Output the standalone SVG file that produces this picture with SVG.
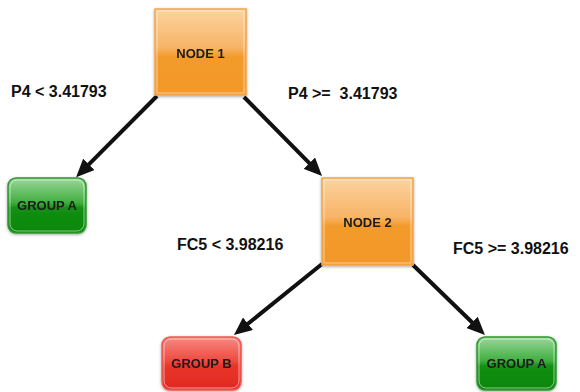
<svg xmlns="http://www.w3.org/2000/svg" width="580" height="392" viewBox="0 0 580 392">
<style>
.lbl{font-family:"Liberation Sans",Arial,sans-serif;font-weight:bold;font-size:16px;fill:#111}
.ntx{font-family:"Liberation Sans",Arial,sans-serif;font-weight:bold;font-size:13px;fill:#1a1a1a;text-anchor:middle}
.edge{stroke:#111;stroke-width:4;fill:none}
.inner{fill:none;stroke:#ffffff;stroke-opacity:0.55;stroke-width:1}
</style>
<defs>
<linearGradient id="gOr" x1="0" y1="0" x2="0" y2="1">
<stop offset="0" stop-color="#fcd3a0"/>
<stop offset="0.45" stop-color="#f7b466"/>
<stop offset="0.55" stop-color="#f39b2c"/>
<stop offset="1" stop-color="#f2982a"/>
</linearGradient>
<linearGradient id="gGr" x1="0" y1="0" x2="0" y2="1">
<stop offset="0" stop-color="#9bd79b"/>
<stop offset="0.45" stop-color="#3fae3f"/>
<stop offset="0.55" stop-color="#138f13"/>
<stop offset="1" stop-color="#0a870a"/>
</linearGradient>
<linearGradient id="gRd" x1="0" y1="0" x2="0" y2="1">
<stop offset="0" stop-color="#f68a83"/>
<stop offset="0.45" stop-color="#ef4a40"/>
<stop offset="0.55" stop-color="#e8342a"/>
<stop offset="1" stop-color="#e22a20"/>
</linearGradient>
<filter id="sh" x="-20%" y="-20%" width="140%" height="140%">
<feGaussianBlur in="SourceAlpha" stdDeviation="1.5"/>
<feOffset dx="0" dy="1" result="b"/>
<feComponentTransfer><feFuncA type="linear" slope="0.35"/></feComponentTransfer>
<feMerge><feMergeNode/><feMergeNode in="SourceGraphic"/></feMerge>
</filter>
<marker id="ah" viewBox="0 0 18 16" markerWidth="18" markerHeight="16" refX="2" refY="8" orient="auto" markerUnits="userSpaceOnUse">
<path d="M0,0 L18,8 L0,16 z" fill="#111"/>
</marker>
</defs>
<g id="connectors">
<line class="edge" x1="157" y1="96" x2="87.4" y2="165.8" marker-end="url(#ah)"/>
<line class="edge" x1="244" y1="97" x2="310.8" y2="164.6" marker-end="url(#ah)"/>
<line class="edge" x1="322" y1="264" x2="246.4" y2="325" marker-end="url(#ah)"/>
<line class="edge" x1="413" y1="265" x2="473.5" y2="323.8" marker-end="url(#ah)"/>
</g>
<g id="node1" filter="url(#sh)">
<rect x="155" y="9" width="91" height="86" fill="url(#gOr)" stroke="#f3a649" stroke-width="1.5"/>
<rect class="inner" x="157" y="11" width="87" height="82"/>
<text class="ntx" x="200.5" y="58">NODE 1</text>
</g>
<g id="node2" filter="url(#sh)">
<rect x="322" y="178" width="91" height="87" fill="url(#gOr)" stroke="#f3a649" stroke-width="1.5"/>
<rect class="inner" x="324" y="180" width="87" height="83"/>
<text class="ntx" x="367.5" y="227">NODE 2</text>
</g>
<g id="groupA1" filter="url(#sh)">
<rect x="8" y="178" width="78" height="55" rx="8" fill="url(#gGr)" stroke="#2f9a2f" stroke-width="1.5"/>
<rect class="inner" x="10" y="180" width="74" height="51" rx="7"/>
<text class="ntx" x="47" y="210">GROUP A</text>
</g>
<g id="groupB" filter="url(#sh)">
<rect x="162" y="337" width="79" height="53" rx="8" fill="url(#gRd)" stroke="#f05a52" stroke-width="1.5"/>
<rect class="inner" x="164" y="339" width="75" height="49" rx="7"/>
<text class="ntx" x="201.5" y="368">GROUP B</text>
</g>
<g id="groupA2" filter="url(#sh)">
<rect x="477" y="337" width="79" height="53" rx="8" fill="url(#gGr)" stroke="#2f9a2f" stroke-width="1.5"/>
<rect class="inner" x="479" y="339" width="75" height="49" rx="7"/>
<text class="ntx" x="516.5" y="368">GROUP A</text>
</g>
<g id="labels">
<text class="lbl" x="11" y="97">P4 &lt; 3.41793</text>
<text class="lbl" x="288" y="99" xml:space="preserve">P4 &gt;=  3.41793</text>
<text class="lbl" x="177" y="250">FC5 &lt; 3.98216</text>
<text class="lbl" x="453" y="254">FC5 &gt;= 3.98216</text>
</g>
</svg>
